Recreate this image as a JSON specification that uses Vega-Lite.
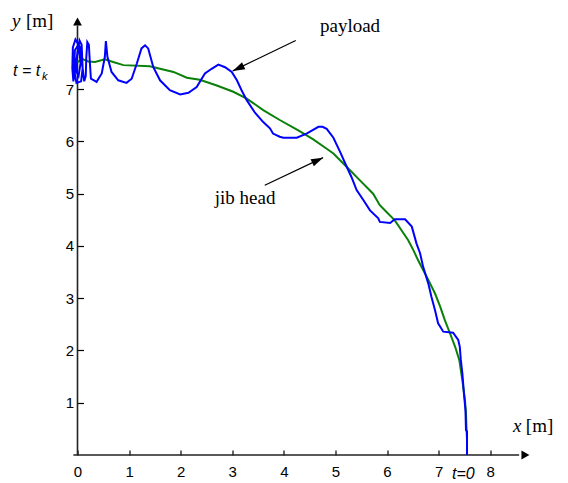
{
  "$schema": "https://vega.github.io/schema/vega-lite/v6.json",
  "width": 454,
  "height": 439,
  "autosize": {"type": "none"},
  "padding": {"left": 77.5, "top": 16, "right": 36.5, "bottom": 28},
  "background": "white",
  "config": {"view": {"stroke": null}},
  "datasets": {
    "jib": [
      {"i":0,"x":7.55,"y":0},{"i":1,"x":7.55,"y":0.3},{"i":2,"x":7.54,"y":0.48},{"i":3,"x":7.53,"y":0.8},{"i":4,"x":7.51,"y":1.05},{"i":5,"x":7.46,"y":1.43},{"i":6,"x":7.40,"y":1.82},{"i":7,"x":7.32,"y":2.07},{"i":8,"x":7.22,"y":2.33},{"i":9,"x":7.12,"y":2.58},{"i":10,"x":7.03,"y":2.84},{"i":11,"x":6.93,"y":3.09},{"i":12,"x":6.80,"y":3.35},{"i":13,"x":6.70,"y":3.54},{"i":14,"x":6.60,"y":3.73},{"i":15,"x":6.51,"y":3.92},{"i":16,"x":6.41,"y":4.11},{"i":17,"x":6.28,"y":4.30},{"i":18,"x":6.15,"y":4.49},{"i":19,"x":5.99,"y":4.65},{"i":20,"x":5.86,"y":4.78},{"i":21,"x":5.73,"y":5.0},{"i":22,"x":5.47,"y":5.26},{"i":23,"x":5.22,"y":5.51},{"i":24,"x":4.96,"y":5.77},{"i":25,"x":4.83,"y":5.86},{"i":26,"x":4.57,"y":6.04},{"i":27,"x":4.28,"y":6.21},{"i":28,"x":3.92,"y":6.41},{"i":29,"x":3.60,"y":6.60},{"i":30,"x":3.28,"y":6.82},{"i":31,"x":3.02,"y":6.95},{"i":32,"x":2.70,"y":7.07},{"i":33,"x":2.37,"y":7.18},{"i":34,"x":2.12,"y":7.22},{"i":35,"x":1.86,"y":7.33},{"i":36,"x":1.60,"y":7.39},{"i":37,"x":1.40,"y":7.44},{"i":38,"x":0.89,"y":7.46},{"i":39,"x":0.69,"y":7.52},{"i":40,"x":0.53,"y":7.57},{"i":41,"x":0.34,"y":7.52},{"i":42,"x":0.21,"y":7.53},{"i":43,"x":0.11,"y":7.57},{"i":44,"x":0,"y":7.52}
    ],
    "payload": [
      {"i":0,"x":7.55,"y":0},{"i":1,"x":7.55,"y":0.45},{"i":2,"x":7.53,"y":0.48},{"i":3,"x":7.52,"y":0.86},{"i":4,"x":7.49,"y":1.18},{"i":5,"x":7.46,"y":1.56},{"i":6,"x":7.43,"y":1.82},{"i":7,"x":7.41,"y":2.07},{"i":8,"x":7.38,"y":2.20},{"i":9,"x":7.28,"y":2.34},{"i":10,"x":7.09,"y":2.36},{"i":11,"x":6.99,"y":2.52},{"i":12,"x":6.93,"y":2.77},{"i":13,"x":6.86,"y":3.03},{"i":14,"x":6.80,"y":3.28},{"i":15,"x":6.70,"y":3.60},{"i":16,"x":6.64,"y":3.86},{"i":17,"x":6.57,"y":4.05},{"i":18,"x":6.48,"y":4.37},{"i":19,"x":6.35,"y":4.51},{"i":20,"x":6.15,"y":4.51},{"i":21,"x":6.06,"y":4.44},{"i":22,"x":5.86,"y":4.46},{"i":23,"x":5.83,"y":4.53},{"i":24,"x":5.67,"y":4.68},{"i":25,"x":5.54,"y":4.88},{"i":26,"x":5.41,"y":5.07},{"i":27,"x":5.31,"y":5.32},{"i":28,"x":5.22,"y":5.51},{"i":29,"x":5.09,"y":5.80},{"i":30,"x":4.96,"y":6.07},{"i":31,"x":4.83,"y":6.24},{"i":32,"x":4.75,"y":6.28},{"i":33,"x":4.67,"y":6.28},{"i":34,"x":4.44,"y":6.15},{"i":35,"x":4.25,"y":6.07},{"i":36,"x":3.99,"y":6.07},{"i":37,"x":3.92,"y":6.09},{"i":38,"x":3.79,"y":6.15},{"i":39,"x":3.73,"y":6.25},{"i":40,"x":3.60,"y":6.37},{"i":41,"x":3.44,"y":6.55},{"i":42,"x":3.28,"y":6.79},{"i":43,"x":3.18,"y":6.98},{"i":44,"x":3.09,"y":7.17},{"i":45,"x":2.99,"y":7.33},{"i":46,"x":2.86,"y":7.42},{"i":47,"x":2.73,"y":7.47},{"i":48,"x":2.60,"y":7.39},{"i":49,"x":2.47,"y":7.30},{"i":50,"x":2.31,"y":7.04},{"i":51,"x":2.15,"y":6.93},{"i":52,"x":1.99,"y":6.90},{"i":53,"x":1.79,"y":6.98},{"i":54,"x":1.60,"y":7.17},{"i":55,"x":1.47,"y":7.42},{"i":56,"x":1.37,"y":7.78},{"i":57,"x":1.31,"y":7.84},{"i":58,"x":1.24,"y":7.78},{"i":59,"x":1.15,"y":7.49},{"i":60,"x":1.05,"y":7.20},{"i":61,"x":0.95,"y":7.12},{"i":62,"x":0.79,"y":7.17},{"i":63,"x":0.66,"y":7.33},{"i":64,"x":0.58,"y":7.62},{"i":65,"x":0.55,"y":7.92},{"i":66,"x":0.53,"y":7.62},{"i":67,"x":0.47,"y":7.30},{"i":68,"x":0.37,"y":7.14},{"i":69,"x":0.26,"y":7.2},{"i":70,"x":0.24,"y":7.5},{"i":71,"x":0.22,"y":7.85},{"i":72,"x":0.19,"y":7.9},{"i":73,"x":0.17,"y":7.6},{"i":74,"x":0.16,"y":7.25},{"i":75,"x":0.13,"y":7.15},{"i":76,"x":0.10,"y":7.4},{"i":77,"x":0.08,"y":7.85},{"i":78,"x":0.04,"y":7.93},{"i":79,"x":0.0,"y":7.7},{"i":80,"x":-0.06,"y":7.3},{"i":81,"x":-0.08,"y":7.15},{"i":82,"x":-0.1,"y":7.4},{"i":83,"x":-0.09,"y":7.8},{"i":84,"x":-0.04,"y":7.95},{"i":85,"x":0.05,"y":7.8},{"i":86,"x":0.1,"y":7.4},{"i":87,"x":0.07,"y":7.15},{"i":88,"x":-0.02,"y":7.12},{"i":89,"x":-0.07,"y":7.4},{"i":90,"x":-0.05,"y":7.75},{"i":91,"x":0.02,"y":7.85},{"i":92,"x":0.06,"y":7.5},{"i":93,"x":0.02,"y":7.25},{"i":94,"x":-0.03,"y":7.35},{"i":95,"x":-0.02,"y":7.6}
    ],
    "axes": [
      {"x":-0.08,"y":0,"x2":8.56,"y2":0},
      {"x":0,"y":0,"x2":0,"y2":8.22}
    ],
    "leaders": [
      {"x":4.23,"y":7.93,"x2":3.01,"y2":7.35},
      {"x":3.63,"y":5.16,"x2":4.76,"y2":5.69}
    ]
  },
  "encoding": {
    "x": {"field": "x", "type": "quantitative",
      "scale": {"domain": [0, 8.8], "nice": false, "zero": false},
      "axis": {"values": [0,1,2,3,4,5,6,7,8], "domain": false, "grid": false, "title": null,
        "tickSize": -5, "tickColor": "black", "tickWidth": 1.2, "labelPadding": 14,
        "labelFont": "Liberation Sans", "labelFontSize": 15, "labelColor": "black",
        "labelFlush": false, "labelOverlap": false}},
    "y": {"field": "y", "type": "quantitative",
      "scale": {"domain": [0, 8.4], "nice": false, "zero": false},
      "axis": {"values": [1,2,3,4,5,6,7], "domain": false, "grid": false, "title": null,
        "tickSize": -6, "tickColor": "black", "tickWidth": 1.2, "labelPadding": 10,
        "labelFont": "Liberation Sans", "labelFontSize": 15, "labelColor": "black",
        "labelOverlap": false}}
  },
  "layer": [
    {"data": {"name": "axes"}, "mark": {"type": "rule", "color": "#222", "strokeWidth": 1.6},
      "encoding": {"x2": {"field": "x2"}, "y2": {"field": "y2"}}},
    {"data": {"values": [{"x": 0, "y": 8.37}]},
      "mark": {"type": "point", "shape": "M0,0L1.1,2L-1.1,2Z", "size": 64, "filled": true, "color": "black", "opacity": 1, "angle": 0}},
    {"data": {"values": [{"x": 8.76, "y": 0}]},
      "mark": {"type": "point", "shape": "M0,0L1.1,2L-1.1,2Z", "size": 64, "filled": true, "color": "black", "opacity": 1, "angle": 90}},
    {"data": {"name": "jib"}, "mark": {"type": "line", "color": "#0a800a", "strokeWidth": 2},
      "encoding": {"order": {"field": "i", "type": "quantitative"}}},
    {"data": {"name": "payload"}, "mark": {"type": "line", "color": "#0000ff", "strokeWidth": 2},
      "encoding": {"order": {"field": "i", "type": "quantitative"}}},
    {"data": {"name": "leaders"}, "mark": {"type": "rule", "color": "black", "strokeWidth": 1.2},
      "encoding": {"x2": {"field": "x2"}, "y2": {"field": "y2"}}},
    {"data": {"values": [{"x": 3.01, "y": 7.35}]},
      "mark": {"type": "point", "shape": "M0,0L0.65,2L-0.65,2Z", "size": 144, "filled": true, "color": "black", "opacity": 1, "angle": 245}},
    {"data": {"values": [{"x": 4.76, "y": 5.69}]},
      "mark": {"type": "point", "shape": "M0,0L0.65,2L-0.65,2Z", "size": 144, "filled": true, "color": "black", "opacity": 1, "angle": 65}},
    {"data": {"values": [
        {"x": 4.70, "y": 8.09, "label": "payload"},
        {"x": 2.66, "y": 4.81, "label": "jib head"},
        {"x": -1.0, "y": 8.18, "label": "[m]"},
        {"x": 8.69, "y": 0.44, "label": "[m]"}
      ]},
      "mark": {"type": "text", "align": "left", "baseline": "alphabetic", "font": "Liberation Serif", "fontSize": 19, "color": "black"},
      "encoding": {"text": {"field": "label"}}},
    {"data": {"values": [
        {"x": -1.27, "y": 8.18, "label": "y"},
        {"x": 8.44, "y": 0.44, "label": "x"}
      ]},
      "mark": {"type": "text", "align": "left", "baseline": "alphabetic", "font": "Liberation Serif", "fontStyle": "italic", "fontSize": 19, "color": "black"},
      "encoding": {"text": {"field": "label"}}},
    {"data": {"values": [
        {"x": -1.25, "y": 7.25, "label": "t = t"},
        {"x": 7.26, "y": -0.46, "label": "t=0"}
      ]},
      "mark": {"type": "text", "align": "left", "baseline": "alphabetic", "font": "Liberation Sans", "fontStyle": "italic", "fontSize": 16, "color": "black"},
      "encoding": {"text": {"field": "label"}}},
    {"data": {"values": [{"x": -0.69, "y": 7.17, "label": "k"}]},
      "mark": {"type": "text", "align": "left", "baseline": "alphabetic", "font": "Liberation Sans", "fontStyle": "italic", "fontSize": 11, "color": "black"},
      "encoding": {"text": {"field": "label"}}}
  ]
}
